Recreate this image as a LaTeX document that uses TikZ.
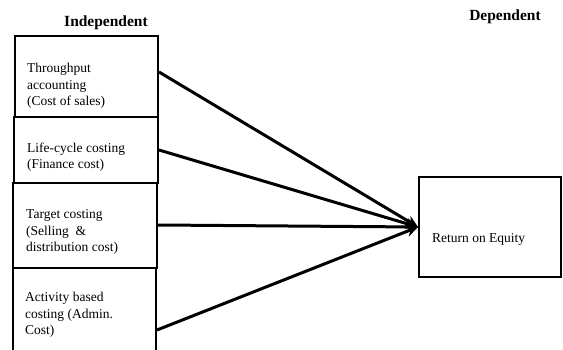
\documentclass[tikz,border=0pt]{standalone}
\usepackage{fontspec}
\setmainfont{Liberation Serif}
\usetikzlibrary{arrows.meta}
\begin{document}
\begin{tikzpicture}[x=1pt,y=-1pt,
  box/.style={draw,line width=2pt,inner sep=0pt},
  lbl/.style={anchor=west,align=left,inner sep=0pt,font=\fontsize{13.5}{16.5}\selectfont},
  head/.style={font=\bfseries\fontsize{15.5}{17}\selectfont,inner sep=0pt},
  conn/.style={line width=3pt,-{Stealth[length=12pt,width=11pt]}}]
\useasboundingbox[fill=white] (0,0) rectangle (563,350);
\node[head] (ind) at (106,23) {Independent};
\node[head] (dep) at (505,17) {Dependent};
\node[box,minimum width=143pt,minimum height=81pt] (b1) at (86.5,76.5) {};
\node[box,minimum width=144pt,minimum height=66pt] (b2) at (86,150) {};
\node[box,minimum width=144pt,minimum height=85pt] (b3) at (85,225.5) {};
\node[box,minimum width=143pt,minimum height=100pt] (b4) at (84.5,318) {};
\node[box,minimum width=142pt,minimum height=100pt] (r) at (490,227) {};
\node[lbl] (t1) at (27,86) {Throughput\\accounting\\(Cost of sales)};
\node[lbl] (t2) at (27,157) {Life-cycle costing\\(Finance cost)};
\node[lbl] (t3) at (26,232) {Target costing\\(Selling \ \&\\distribution cost)};
\node[lbl] (t4) at (25,315) {Activity based\\costing (Admin.\\Cost)};
\node[lbl] (t5) at (432,239) {Return on Equity};
\coordinate (tip) at (r.west);
\draw[conn] (b1.east |- 0,72) -- (tip);
\draw[conn] (b2.east |- 0,150) -- (tip);
\draw[conn] (b3.east |- 0,225) -- (tip);
\draw[conn] (b4.east |- 0,330) -- (tip);
\end{tikzpicture}
\end{document}
